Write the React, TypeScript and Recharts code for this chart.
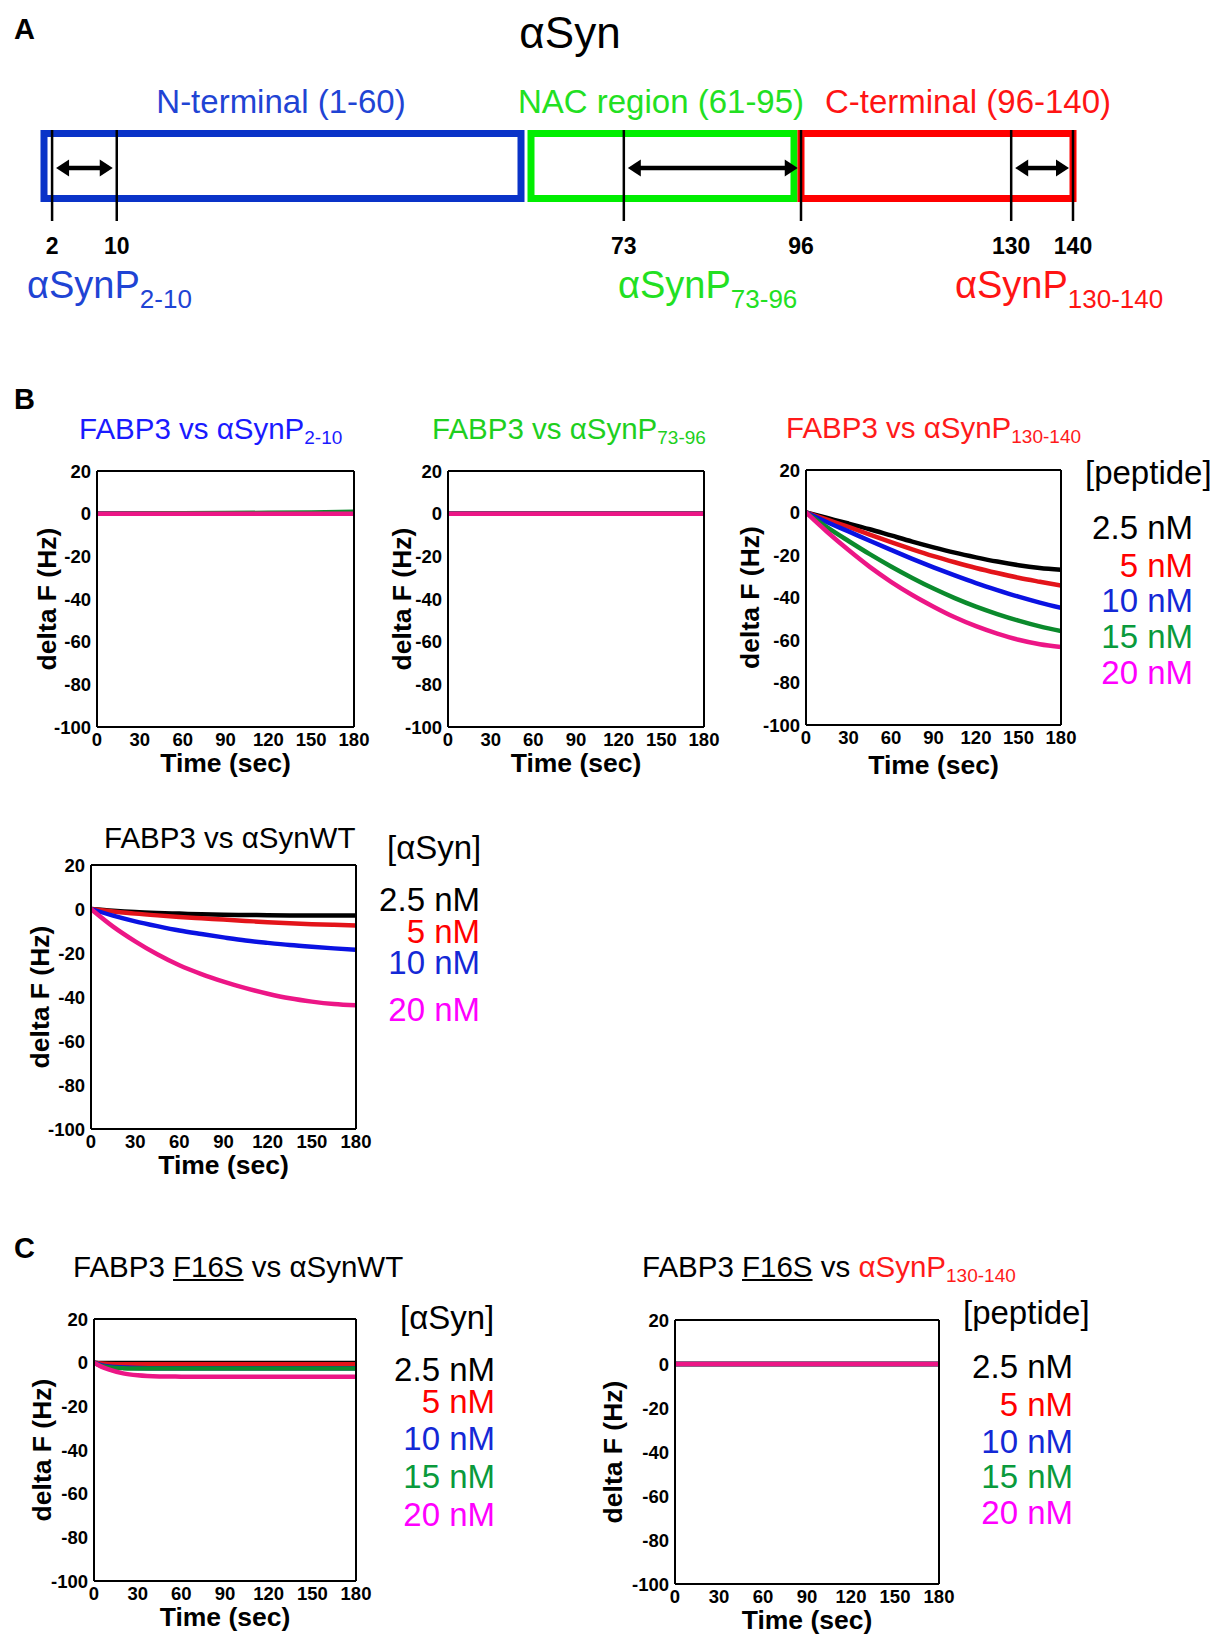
import React from 'react';
import { LineChart, Line, XAxis, YAxis, ReferenceArea, ReferenceLine } from 'recharts';

const FONT = '"Liberation Sans", Arial, Helvetica, sans-serif';

// ---- panel A: aSyn domains and the peptides cut from it
const DOMAIN_LABELS = ['N-terminal (1-60)', 'NAC region (61-95)', 'C-terminal (96-140)'];
const DOMAIN_START = [1, 61, 96];
const DOMAIN_END = [60, 95, 140];
const PEPTIDE_NAMES = ['2-10', '73-96', '130-140'];
const PEPTIDE_START = [2, 73, 130];
const PEPTIDE_END = [10, 96, 140];

// ---- panels B / C: QCM binding curves (delta F in Hz)
const CONC = ['2.5 nM', '5 nM', '10 nM', '15 nM', '20 nM'];

const T_FLAT = [0, 30, 60, 90, 120, 150, 180];
const T_15 = [0, 15, 30, 45, 60, 75, 90, 105, 120, 135, 150, 165, 180];
const T_FAST = [0, 5, 10, 20, 30, 45, 60, 90, 120, 150, 180];

// FABP3 vs aSynP2-10
const P2_10_C25 = [0, 0, 0, 0, 0, 0, 0];
const P2_10_C5 = [0, 0, 0, 0, 0, 0, 0];
const P2_10_C10 = [0, 0, 0, 0, 0, 0, 0];
const P2_10_C15 = [0, 0.1, 0.2, 0.3, 0.4, 0.6, 0.9];
const P2_10_C20 = [0, 0, 0, 0, 0, 0, 0];

// FABP3 vs aSynP73-96
const P73_96_C25 = [0, 0, 0, 0, 0, 0, 0];
const P73_96_C5 = [0, 0, 0, 0, 0, 0, 0];
const P73_96_C10 = [0, 0, 0, 0, 0, 0, 0];
const P73_96_C15 = [0, 0, 0, 0, 0, 0, 0];
const P73_96_C20 = [0, 0, 0, 0, 0, 0, 0];

// FABP3 vs aSynP130-140
const P130_C25 = [0, -2.6, -5.2, -7.9, -10.8, -13.7, -16.4, -18.9, -21.1, -23.1, -24.8, -26.1, -27.0];
const P130_C5 = [0, -3.4, -6.8, -10.4, -13.9, -17.3, -20.5, -23.4, -26.1, -28.5, -30.7, -32.6, -34.4];
const P130_C10 = [0, -4.6, -8.9, -13.3, -17.6, -21.8, -25.8, -29.6, -33.2, -36.5, -39.6, -42.4, -44.9];
const P130_C15 = [0, -7.0, -13.4, -19.6, -25.4, -30.8, -35.8, -40.3, -44.3, -47.8, -50.9, -53.6, -55.8];
const P130_C20 = [0, -9.2, -17.7, -25.6, -32.6, -38.8, -44.3, -49.3, -53.5, -57.0, -59.9, -62.0, -63.3];

// FABP3 vs aSynWT
const WT_C25 = [0, -0.8, -1.4, -1.8, -2.1, -2.4, -2.6, -2.7, -2.8, -2.9, -3.0, -3.0, -3.0];
const WT_C5 = [0, -1.1, -2.1, -2.9, -3.6, -4.2, -4.8, -5.4, -6.0, -6.5, -6.9, -7.2, -7.5];
const WT_C10 = [0, -3.0, -5.6, -7.8, -9.8, -11.4, -12.9, -14.3, -15.4, -16.4, -17.2, -17.9, -18.5];
const WT_C20 = [0, -8.0, -14.7, -20.6, -25.6, -29.6, -33.0, -36.0, -38.5, -40.6, -42.1, -43.2, -43.8];

// FABP3 F16S vs aSynWT
const F16S_WT_C25 = [0, -0.1, -0.1, -0.1, -0.1, -0.1, -0.1, -0.1, -0.1, -0.1, -0.1];
const F16S_WT_C5 = [0, -0.4, -0.6, -0.7, -0.7, -0.7, -0.7, -0.7, -0.7, -0.7, -0.7];
const F16S_WT_C10 = [0, -1.2, -1.8, -2.2, -2.4, -2.5, -2.5, -2.5, -2.5, -2.5, -2.5];
const F16S_WT_C15 = [0, -1.5, -2.1, -2.5, -2.7, -2.7, -2.7, -2.7, -2.7, -2.7, -2.7];
const F16S_WT_C20 = [0, -1.8, -3.1, -4.9, -5.8, -6.3, -6.4, -6.5, -6.5, -6.5, -6.5];

// FABP3 F16S vs aSynP130-140
const F16S_P130_C25 = [0, 0, 0, 0, 0, 0, 0];
const F16S_P130_C5 = [0, 0, 0, 0, 0, 0, 0];
const F16S_P130_C10 = [0, 0, 0, 0, 0, 0, 0];
const F16S_P130_C15 = [0, 0, 0, 0, 0, 0, 0];
const F16S_P130_C20 = [0, 0, 0, 0, 0, 0, 0];

const LINE_COLORS = ['#000000', '#e3141a', '#0a12e2', '#0b8a2c', '#ec1686'];
const TEXT_COLORS = ['#000000', '#ff0000', '#1428d6', '#0a9a3c', '#ff00ff'];
const DOMAIN_COLORS = ['#0a33c8', '#00ee00', '#ff0000'];
const DOMAIN_TEXT = ['#1f44d4', '#22e022', '#ff1414'];

const Y_TICKS = [-100, -80, -60, -40, -20, 0, 20];
const X_TICKS = [0, 30, 60, 90, 120, 150, 180];
const X_MINOR = [0, 10, 20, 30, 40, 50, 60, 70, 80, 90, 100, 110, 120, 130, 140, 150, 160, 170, 180];

const Y_AXIS_W = 82;
const X_AXIS_H = 54;
const TOP_PAD = 14;
const RIGHT_PAD = 24;
const AXIS = { stroke: '#000', strokeWidth: 2 };
const TICK_FONT = { fontSize: 18.5, fontWeight: 700, fill: '#000', fontFamily: FONT };
const AXIS_TITLE = { fontSize: 26.5, fontWeight: 700, fill: '#000', fontFamily: FONT };

type Plot = { x: number; y: number; w: number; h: number };

function Kinetics({ plot, time, series, yLabelDx = 50, xLabelDy = 34 }: {
  plot: Plot; time: number[]; series: { values: number[]; conc: number }[]; yLabelDx?: number; xLabelDy?: number;
}) {
  const data = time.map((t, i) => {
    const row: Record<string, number> = { t };
    series.forEach((s, k) => { row['s' + k] = s.values[i]; });
    return row;
  });
  const common = { type: 'number' as const, domain: [0, 180], allowDataOverflow: true };
  const yCommon = { type: 'number' as const, domain: [-100, 20], allowDataOverflow: true, ticks: Y_TICKS };
  return (
    <div style={{ position: 'absolute', left: plot.x - Y_AXIS_W, top: plot.y - TOP_PAD }}>
      <LineChart width={Y_AXIS_W + plot.w + RIGHT_PAD} height={TOP_PAD + plot.h + X_AXIS_H} data={data}
        margin={{ top: TOP_PAD, right: RIGHT_PAD, bottom: 0, left: 0 }}>
        <XAxis xAxisId="minorB" orientation="bottom" mirror height={1} {...common} ticks={X_MINOR}
          tick={false} tickSize={3} tickLine={AXIS} axisLine={false} />
        <XAxis xAxisId="majorB" orientation="bottom" mirror height={1} {...common} ticks={X_TICKS}
          tick={false} tickSize={6} tickLine={AXIS} axisLine={false} />
        <XAxis xAxisId="top" orientation="top" mirror height={1} {...common} ticks={X_MINOR}
          tick={false} tickSize={3} tickLine={AXIS} axisLine={AXIS} />
        <XAxis dataKey="t" {...common} ticks={X_TICKS} height={X_AXIS_H} tickLine={false} tickSize={0}
          tickMargin={6} axisLine={AXIS} tick={TICK_FONT}
          label={{ value: 'Time (sec)', position: 'insideBottom', offset: X_AXIS_H - xLabelDy - 10.5, style: AXIS_TITLE }} />
        <YAxis {...yCommon} width={Y_AXIS_W} tickLine={false} tickSize={0} tickMargin={6} axisLine={AXIS}
          tick={TICK_FONT}
          label={{ value: 'delta F (Hz)', angle: -90, position: 'insideLeft', offset: Y_AXIS_W - yLabelDx,
            style: { ...AXIS_TITLE, textAnchor: 'middle' } }} />
        <YAxis yAxisId="leftIn" orientation="left" mirror width={1} {...yCommon} tick={false} tickSize={5}
          tickLine={AXIS} axisLine={false} />
        <YAxis yAxisId="rightIn" orientation="right" mirror width={1} {...yCommon} tick={false} tickSize={5}
          tickLine={AXIS} axisLine={AXIS} />
        {series.map((s, k) => (
          <Line key={k} dataKey={'s' + k} type="monotone" stroke={LINE_COLORS[s.conc]} strokeWidth={4.5}
            strokeLinecap="round" strokeLinejoin="round" dot={false} isAnimationActive={false} />
        ))}
      </LineChart>
    </div>
  );
}

function ConcLegend({ heading, headLeft, headCy, right, ys, conc }: {
  heading: string; headLeft: number; headCy: number; right: number; ys: number[]; conc: number[];
}) {
  const txt = { position: 'absolute' as const, fontSize: 33, lineHeight: '26px', whiteSpace: 'nowrap' as const };
  return (
    <>
      <div style={{ ...txt, left: headLeft, top: headCy - 13 }}>{heading}</div>
      {conc.map((c, k) => (
        <div key={k} style={{ ...txt, right: 1217 - right, top: ys[k] - 13, color: TEXT_COLORS[c] }}>{CONC[c]}</div>
      ))}
    </>
  );
}

function Title({ left, cy, children, color = '#000' }: { left: number; cy: number; children: React.ReactNode; color?: string }) {
  return (
    <div style={{ position: 'absolute', left, top: cy - 14.5, fontSize: 29.5, lineHeight: '29px', whiteSpace: 'nowrap', color }}>
      {children}
    </div>
  );
}

const Sub = ({ children }: { children: React.ReactNode }) => (
  <span style={{ fontSize: 19, verticalAlign: '-5px' }}>{children}</span>
);

const Letter = ({ ch, top }: { ch: string; top: number }) => (
  <div style={{ position: 'absolute', left: 14, top, fontSize: 29, fontWeight: 700, lineHeight: '29px' }}>{ch}</div>
);

// panel A geometry (plot extents of each domain box)
const A_PLOT = [{ l: 44, r: 521 }, { l: 531, r: 794 }, { l: 801, r: 1073 }];
const A_SIDE = 24;
const A_TOP = 130;
const A_PLOT_H = 91;
const BOX_Y = [0.247, 0.962];
const ARROW_Y = 0.582;

const renderArrow = (p: any) => {
  const a = p.x1 + 4;
  const b = p.x2 - 4;
  const y = p.y1;
  const hl = 13;
  const hw = 8.5;
  return (
    <g>
      <line x1={a + hl - 1} y1={y} x2={b - hl + 1} y2={y} stroke="#000" strokeWidth={4.5} />
      <polygon points={`${a},${y} ${a + hl},${y - hw} ${a + hl},${y + hw}`} fill="#000" />
      <polygon points={`${b},${y} ${b - hl},${y - hw} ${b - hl},${y + hw}`} fill="#000" />
    </g>
  );
};

function DomainBox({ idx }: { idx: number }) {
  const start = DOMAIN_START[idx];
  const end = DOMAIN_END[idx];
  const bounds = [...PEPTIDE_START, ...PEPTIDE_END].filter((r) => r >= start && r <= end).sort((m, n) => m - n);
  const arrows = PEPTIDE_START.map((s, i) => ({ s, e: PEPTIDE_END[i] })).filter((a) => a.s >= start && a.s <= end);
  const lay = A_PLOT[idx];
  return (
    <div style={{ position: 'absolute', left: lay.l - A_SIDE, top: A_TOP }}>
      <LineChart width={lay.r - lay.l + 2 * A_SIDE} height={A_PLOT_H + 40} data={[{ r: start, v: 0 }, { r: end, v: 1 }]}
        margin={{ top: 0, right: A_SIDE, bottom: 0, left: A_SIDE }}>
        <XAxis dataKey="r" type="number" domain={[start, end]} allowDataOverflow ticks={bounds} height={40}
          axisLine={false} tickLine={false} tickSize={0} tickMargin={17} interval={0}
          tick={{ fontSize: 23, fontWeight: 700, fill: '#000', fontFamily: FONT }} />
        <YAxis hide dataKey="v" type="number" domain={[0, 1]} allowDataOverflow />
        <ReferenceArea x1={start} x2={end} y1={BOX_Y[0]} y2={BOX_Y[1]} fill="none" fillOpacity={0}
          stroke={DOMAIN_COLORS[idx]} strokeWidth={7} ifOverflow="visible" />
        {bounds.map((r) => (
          <ReferenceLine key={r} x={r} stroke="#000" strokeWidth={2.5} ifOverflow="visible" />
        ))}
        {arrows.map((a) => (
          <ReferenceLine key={a.s} segment={[{ x: a.s, y: ARROW_Y }, { x: a.e, y: ARROW_Y }]} ifOverflow="visible"
            shape={renderArrow} />
        ))}
      </LineChart>
    </div>
  );
}

const DOMAIN_LABEL_CX = [281, 661, 968];
const PEPTIDE_LABEL_LEFT = [27, 618, 955];

export default function App() {
  return (
    <div style={{ position: 'absolute', left: 0, top: 0, width: 1217, height: 1634, background: '#fff', fontFamily: FONT, color: '#000' }}>
      {/* ---------- A ---------- */}
      <Letter ch="A" top={15} />
      <div style={{ position: 'absolute', left: 470, width: 200, textAlign: 'center', top: 11, fontSize: 44, lineHeight: '44px' }}>αSyn</div>
      {DOMAIN_LABELS.map((t, i) => (
        <div key={t} style={{ position: 'absolute', left: DOMAIN_LABEL_CX[i] - 200, width: 400, textAlign: 'center', top: 101 - 16, fontSize: 33, lineHeight: '33px', color: DOMAIN_TEXT[i], whiteSpace: 'nowrap' }}>{t}</div>
      ))}
      {[0, 1, 2].map((i) => <DomainBox key={i} idx={i} />)}
      {PEPTIDE_NAMES.map((p, i) => (
        <div key={p} style={{ position: 'absolute', left: PEPTIDE_LABEL_LEFT[i], top: 285 - 19, fontSize: 38, lineHeight: '38px', color: DOMAIN_TEXT[i], whiteSpace: 'nowrap' }}>
          αSynP<span style={{ fontSize: 26, verticalAlign: '-10px' }}>{p}</span>
        </div>
      ))}

      {/* ---------- B ---------- */}
      <Letter ch="B" top={385} />
      <Title left={79} cy={428} color="#1a1aff">FABP3 vs αSynP<Sub>2-10</Sub></Title>
      <Kinetics plot={{ x: 97, y: 471, w: 257, h: 256 }} time={T_FLAT} yLabelDx={50}
        series={[P2_10_C25, P2_10_C5, P2_10_C10, P2_10_C15, P2_10_C20].map((v, c) => ({ values: v, conc: c }))} />

      <Title left={432} cy={428} color="#1ecf1e">FABP3 vs αSynP<Sub>73-96</Sub></Title>
      <Kinetics plot={{ x: 448, y: 471, w: 256, h: 256 }} time={T_FLAT} yLabelDx={46}
        series={[P73_96_C25, P73_96_C5, P73_96_C10, P73_96_C15, P73_96_C20].map((v, c) => ({ values: v, conc: c }))} />

      <Title left={786} cy={427} color="#ff1a1a">FABP3 vs αSynP<Sub>130-140</Sub></Title>
      <Kinetics plot={{ x: 806, y: 470, w: 255, h: 255 }} time={T_15} yLabelDx={56} xLabelDy={38}
        series={[P130_C25, P130_C5, P130_C10, P130_C15, P130_C20].map((v, c) => ({ values: v, conc: c }))} />
      <ConcLegend heading="[peptide]" headLeft={1085} headCy={473} right={1193} ys={[528, 566, 601, 637, 673]} conc={[0, 1, 2, 3, 4]} />

      <Title left={104} cy={837}>FABP3 vs αSynWT</Title>
      <Kinetics plot={{ x: 91, y: 865, w: 265, h: 264 }} time={T_15} yLabelDx={51}
        series={[WT_C25, WT_C5, WT_C10, WT_C20].map((v, k) => ({ values: v, conc: [0, 1, 2, 4][k] }))} />
      <ConcLegend heading="[αSyn]" headLeft={387} headCy={848} right={480} ys={[900, 932, 963, 1010]} conc={[0, 1, 2, 4]} />

      {/* ---------- C ---------- */}
      <Letter ch="C" top={1234} />
      <Title left={73} cy={1266}>FABP3 <span style={{ textDecoration: 'underline' }}>F16S</span> vs αSynWT</Title>
      <Kinetics plot={{ x: 94, y: 1319, w: 262, h: 262 }} time={T_FAST} yLabelDx={52}
        series={[F16S_WT_C25, F16S_WT_C5, F16S_WT_C10, F16S_WT_C15, F16S_WT_C20].map((v, c) => ({ values: v, conc: c }))} />
      <ConcLegend heading="[αSyn]" headLeft={400} headCy={1318} right={495} ys={[1370, 1402, 1439, 1477, 1515]} conc={[0, 1, 2, 3, 4]} />

      <Title left={642} cy={1266}>
        FABP3 <span style={{ textDecoration: 'underline' }}>F16S</span> vs <span style={{ color: '#ff1a1a' }}>αSynP<Sub>130-140</Sub></span>
      </Title>
      <Kinetics plot={{ x: 675, y: 1320, w: 264, h: 264 }} time={T_FLAT} yLabelDx={62}
        series={[F16S_P130_C25, F16S_P130_C5, F16S_P130_C10, F16S_P130_C15, F16S_P130_C20].map((v, c) => ({ values: v, conc: c }))} />
      <ConcLegend heading="[peptide]" headLeft={963} headCy={1313} right={1073} ys={[1367, 1405, 1442, 1477, 1513]} conc={[0, 1, 2, 3, 4]} />
    </div>
  );
}
